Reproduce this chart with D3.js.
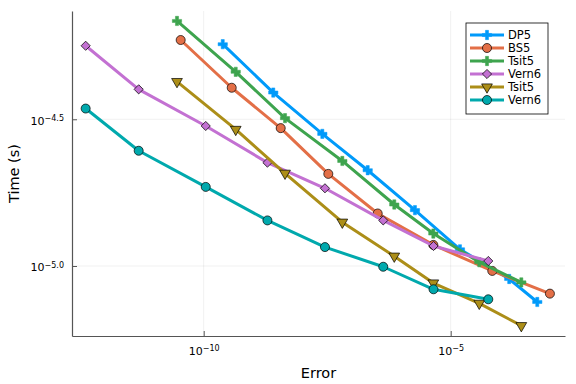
<!DOCTYPE html>
<html>
<head>
<meta charset="utf-8">
<script src="https://cdn.jsdelivr.net/npm/d3@7"></script>
<style>
  body { margin: 0; background: #fff; }
  text { font-family: "DejaVu Sans", sans-serif; fill: #000; }
</style>
</head>
<body>
<script>
// data (error, time in seconds)
var errA = [2.43e-10, 2.56e-9, 2.52e-8, 2.09e-7, 1.89e-6, 1.54e-5, 1.53e-4, 5.66e-4];
var timeDP5 = [5.70e-5, 3.90e-5, 2.82e-5, 2.12e-5, 1.55e-5, 1.14e-5, 9.03e-6, 7.54e-6];

var errBS5 = [3.42e-11, 3.69e-10, 3.62e-9, 3.33e-8, 3.33e-7, 4.45e-6, 6.95e-5, 1.02e-3];
var timeBS5 = [5.89e-5, 4.05e-5, 2.95e-5, 2.06e-5, 1.51e-5, 1.18e-5, 9.62e-6, 8.05e-6];

var errTsit = [2.88e-11, 4.45e-10, 4.43e-9, 6.40e-8, 7.21e-7, 4.45e-6, 3.79e-5, 2.69e-4];
var timeTsit5a = [6.84e-5, 4.59e-5, 3.19e-5, 2.28e-5, 1.62e-5, 1.29e-5, 1.03e-5, 8.79e-6];
var timeTsit5b = [4.25e-5, 2.92e-5, 2.07e-5, 1.41e-5, 1.08e-5, 8.75e-6, 7.46e-6, 6.26e-6];

var errVern = [4.08e-13, 4.83e-12, 1.10e-10, 1.95e-9, 2.85e-8, 4.31e-7, 4.49e-6, 5.77e-5];
var timeVern6a = [5.63e-5, 4.00e-5, 3.00e-5, 2.25e-5, 1.84e-5, 1.43e-5, 1.17e-5, 1.04e-5];
var timeVern6b = [3.44e-5, 2.47e-5, 1.86e-5, 1.43e-5, 1.16e-5, 9.94e-6, 8.33e-6, 7.70e-6];

var names = ["DP5", "BS5", "Tsit5", "Vern6", "Tsit5", "Vern6"];
var xTicks = [1e-10, 1e-5];
var xTickExp = ["\u221210", "\u22125"];
var yTicks = [Math.pow(10, -4.5), 1e-5];
var yTickExp = ["\u22124.5", "\u22125.0"];

var series = [
  { name: names[0], x: errA, y: timeDP5, color: "#009afa", marker: "cross" },
  { name: names[1], x: errBS5, y: timeBS5, color: "#e36f47", marker: "circle" },
  { name: names[2], x: errTsit, y: timeTsit5a, color: "#3ea44e", marker: "cross" },
  { name: names[3], x: errVern, y: timeVern6a, color: "#c371d2", marker: "diamond" },
  { name: names[4], x: errTsit, y: timeTsit5b, color: "#ac8e18", marker: "triangle" },
  { name: names[5], x: errVern, y: timeVern6b, color: "#00a9ad", marker: "circle" }
];

var svgWidth = 576, svgHeight = 384;
var margin = { top: 11, right: 11, bottom: 48, left: 72 };
var width = svgWidth - margin.left - margin.right;
var height = svgHeight - margin.top - margin.bottom;

var svg = d3.select("body").append("svg")
  .attr("width", svgWidth)
  .attr("height", svgHeight);

var g = svg.append("g")
  .attr("transform", `translate(${margin.left}, ${margin.top})`);

var x = d3.scaleLog()
  .domain([Math.pow(10, -12.666), Math.pow(10, -2.686)])
  .range([0, width]);
var y = d3.scaleLog()
  .domain([Math.pow(10, -5.2386), Math.pow(10, -4.131)])
  .range([height, 0]);

// grid
g.append("g")
  .selectAll("line.gx")
  .data(xTicks)
  .enter().append("line")
  .attr("x1", d => x(d)).attr("x2", d => x(d))
  .attr("y1", 0).attr("y2", height)
  .attr("stroke", "#000").attr("stroke-opacity", 0.1).attr("stroke-width", 0.6);
g.append("g")
  .selectAll("line.gy")
  .data(yTicks)
  .enter().append("line")
  .attr("x1", 0).attr("x2", width)
  .attr("y1", d => y(d)).attr("y2", d => y(d))
  .attr("stroke", "#000").attr("stroke-opacity", 0.1).attr("stroke-width", 0.6);

// axes
function supLabel(sel, exps) {
  sel.each(function(d, i) {
    var t = d3.select(this);
    t.text(null);
    t.append("tspan").text("10");
    t.append("tspan").attr("dy", "-0.45em").style("font-size", "8px").text(exps[i]);
  });
}

var xAxis = g.append("g")
  .attr("transform", `translate(0, ${height})`)
  .call(d3.axisBottom(x).tickValues(xTicks).tickSize(-5).tickPadding(9).tickSizeOuter(0));
xAxis.selectAll("text").style("font-size", "11px").attr("dy", "0.9em").call(supLabel, xTickExp);

var yAxis = g.append("g")
  .call(d3.axisLeft(y).tickValues(yTicks).tickSize(-5).tickPadding(8).tickSizeOuter(0));
yAxis.selectAll("text").style("font-size", "11px").attr("dy", "0.45em").call(supLabel, yTickExp);

svg.selectAll(".domain").attr("stroke", "#555").attr("stroke-width", 1.2);
svg.selectAll(".tick line").attr("stroke", "#555").attr("stroke-width", 1);

// axis labels
svg.append("text")
  .attr("x", margin.left + width / 2)
  .attr("y", 378)
  .attr("text-anchor", "middle")
  .style("font-size", "14.5px")
  .text("Error");

svg.append("text")
  .attr("transform", `translate(19, ${margin.top + height / 2}) rotate(-90)`)
  .attr("text-anchor", "middle")
  .style("font-size", "14.5px")
  .text("Time (s)");

// markers
function symbolFor(m) {
  if (m === "cross") return d3.symbol().type(d3.symbolCross).size(48)();
  if (m === "circle") return d3.symbol().type(d3.symbolCircle).size(64)();
  if (m === "diamond") return d3.symbol().type(d3.symbolSquare).size(42)();
  return d3.symbol().type(d3.symbolTriangle).size(50)();
}
function markTransform(m) {
  if (m === "triangle") return " rotate(180)";
  if (m === "diamond") return " rotate(45)";
  return "";
}

var line = d3.line().x(d => x(d[0])).y(d => y(d[1]));

series.forEach(function(s) {
  var pts = s.x.map((v, i) => [v, s.y[i]]);
  var sg = g.append("g");
  sg.append("path")
    .datum(pts)
    .attr("d", line)
    .attr("fill", "none")
    .attr("stroke", s.color)
    .attr("stroke-width", 3)
    .attr("stroke-linejoin", "round");
  sg.selectAll("path.m")
    .data(pts)
    .enter().append("path")
    .attr("d", symbolFor(s.marker))
    .attr("transform", d => `translate(${x(d[0])}, ${y(d[1])})` + markTransform(s.marker))
    .attr("fill", s.color)
    .attr("stroke", s.marker === "cross" ? s.color : "#000")
    .attr("stroke-width", s.marker === "cross" ? 0.5 : 0.7);
});

// legend
var legend = svg.append("g").attr("transform", "translate(466, 23)");
legend.append("rect")
  .attr("width", 82).attr("height", 91)
  .attr("fill", "#fff").attr("stroke", "#000").attr("stroke-width", 0.8);

series.forEach(function(s, i) {
  var row = legend.append("g").attr("transform", `translate(0, ${12 + i * 13})`);
  row.append("line")
    .attr("x1", 4).attr("x2", 38)
    .attr("stroke", s.color).attr("stroke-width", 3);
  row.append("path")
    .attr("d", symbolFor(s.marker))
    .attr("transform", "translate(21, 0)" + markTransform(s.marker))
    .attr("fill", s.color)
    .attr("stroke", s.marker === "cross" ? s.color : "#000")
    .attr("stroke-width", s.marker === "cross" ? 0.5 : 0.7);
  row.append("text")
    .attr("x", 42).attr("y", 4)
    .style("font-size", "11.5px")
    .text(s.name);
});
</script>
</body>
</html>
